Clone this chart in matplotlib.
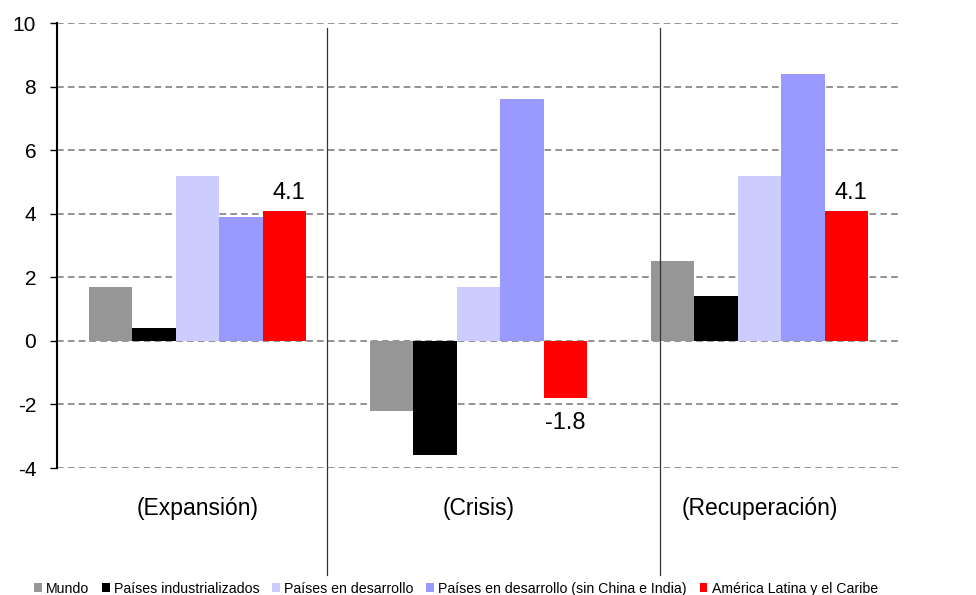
import matplotlib
matplotlib.use("Agg")
import matplotlib.pyplot as plt
from matplotlib.patches import Patch
from matplotlib.lines import Line2D
import numpy as np

plt.rcParams['font.family'] = ['Liberation Sans', 'DejaVu Sans']

periods = ["(Expansión)", "(Crisis)", "(Recuperación)"]
series_names = ["Mundo", "Países industrializados", "Países en desarrollo",
                "Países en desarrollo (sin China e India)", "América Latina y el Caribe"]
mundo = [1.7, -2.2, 2.5]
industrializados = [0.4, -3.6, 1.4]
en_desarrollo = [5.2, 1.7, 5.2]
desarrollo_sin_china_india = [3.9, 7.6, 8.4]
america_latina = [4.1, -1.8, 4.1]
series_colors = ["#969696", "#000000", "#CCCCFF", "#9999FF", "#FF0000"]
y_ticks = [-4, -2, 0, 2, 4, 6, 8, 10]
separator_x = [0.461, 1.646]

series = [mundo, industrializados, en_desarrollo, desarrollo_sin_china_india, america_latina]

fig = plt.figure(figsize=(9.76, 5.95), dpi=100)
ax = fig.add_axes([0.0584, 0.2134, 0.8637, 0.7479])

x = np.arange(len(periods))
width = 0.155
offsets = (np.arange(len(series)) - 2) * width
for vals, off, col, name in zip(series, offsets, series_colors, series_names):
    ax.bar(x + off, vals, width, color=col, label=name, zorder=2)

# value labels on the Latin America bars
for xi, v in zip(x + offsets[-1], america_latina):
    if v >= 0:
        ax.text(xi + 0.015, v + 0.22, f"{v:.1f}", ha="center", va="bottom", fontsize=17)
    else:
        ax.text(xi, v - 0.45, f"{v:.1f}", ha="center", va="top", fontsize=17)

ax.set_xlim(-0.5, 2.5)
ax.set_ylim(-4, 10)
ax.set_yticks(y_ticks)
ax.set_yticklabels([str(t) for t in y_ticks], fontsize=15)
ax.yaxis.grid(True, linestyle=(0, (4, 2.5)), color="#808080", linewidth=1.2, zorder=1)
ax.set_axisbelow(True)
ax.set_xticks([])
for s in ["top", "right", "bottom"]:
    ax.spines[s].set_visible(False)
ax.spines["left"].set_linewidth(1.5)
ax.tick_params(axis="y", length=5, width=1, direction="out", pad=10)

# period names under each group
for xi, name in zip(x, periods):
    ax.text(xi, -0.09, name, transform=ax.get_xaxis_transform(), ha="center",
            va="center", fontsize=16.5)

# vertical separators between periods
for sx in separator_x:
    ax.add_line(Line2D([sx, sx], [0.989, -0.24], transform=ax.get_xaxis_transform(),
                       color="#333333", linewidth=0.9, clip_on=False, zorder=5))

handles = [Patch(facecolor=c, edgecolor="none") for c in series_colors]
fig.legend(handles, series_names, loc="lower center", bbox_to_anchor=(0.467, -0.004),
           ncol=5, frameon=False, fontsize=10.2, handlelength=0.55, handleheight=0.6,
           handletextpad=0.3, columnspacing=0.9, borderaxespad=0, borderpad=0.1)

fig.savefig("out.png", dpi=100)
